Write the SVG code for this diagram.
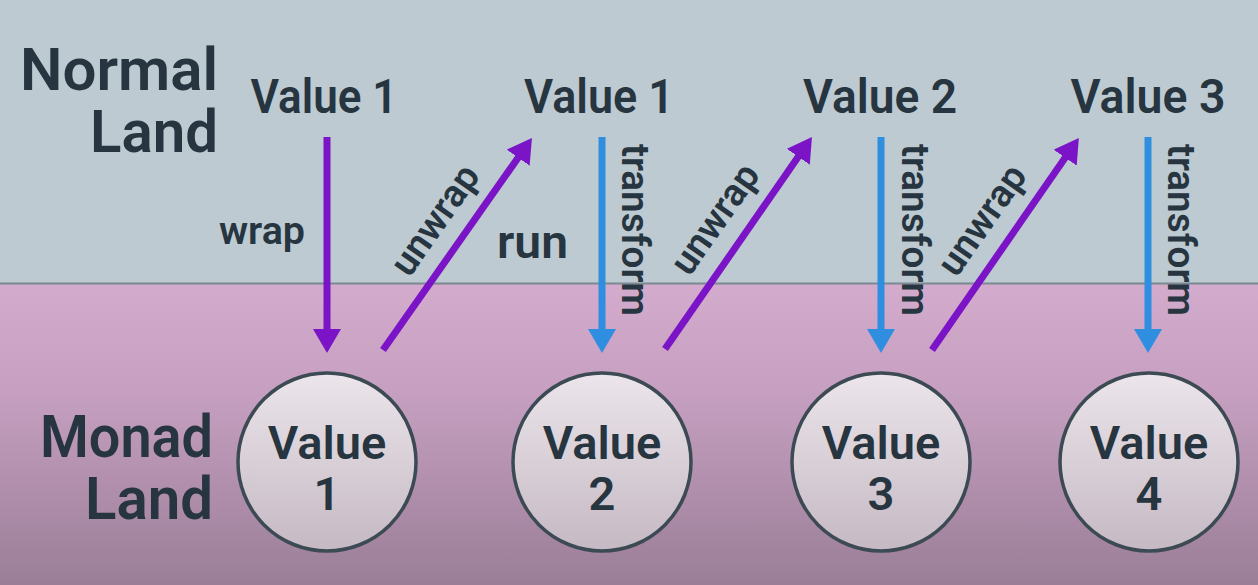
<svg xmlns="http://www.w3.org/2000/svg" width="1258" height="585" viewBox="0 0 1258 585">
<defs>
<linearGradient id="monadBg" x1="0" y1="283" x2="0" y2="585" gradientUnits="userSpaceOnUse">
<stop offset="0" stop-color="#d3abcc"/>
<stop offset="0.35" stop-color="#c7a0c1"/>
<stop offset="1" stop-color="#9a7e97"/>
</linearGradient>
<linearGradient id="bubble" x1="0" y1="0" x2="0" y2="1">
<stop offset="0" stop-color="#ece5eb"/>
<stop offset="1" stop-color="#c5b9c3"/>
</linearGradient>
<marker id="headP" viewBox="0 0 24 28" markerWidth="24" markerHeight="28" markerUnits="userSpaceOnUse" refX="6" refY="14" orient="auto">
<path d="M0,0 L24,14 L0,28 Z" fill="#7a14c6"/>
</marker>
<marker id="headB" viewBox="0 0 24 28" markerWidth="24" markerHeight="28" markerUnits="userSpaceOnUse" refX="6" refY="14" orient="auto">
<path d="M0,0 L24,14 L0,28 Z" fill="#2f8ee0"/>
</marker>
</defs>
<style>
.t{font-family:Roboto,"Liberation Sans",sans-serif;font-weight:600;fill:#263540}
.land{font-size:59px;text-anchor:end}
.val{font-size:48px;text-anchor:middle}
.cv{font-size:47px;text-anchor:middle}
.lab{font-size:38px}
.bub{fill:url(#bubble);stroke:#3c4a53;stroke-width:3.5}
.p{stroke:#7a14c6;stroke-width:7;fill:none;marker-end:url(#headP)}
.b{stroke:#2f8ee0;stroke-width:7;fill:none;marker-end:url(#headB)}
</style>
<rect x="0" y="0" width="1258" height="284" fill="#bdcad1"/>
<rect x="0" y="284" width="1258" height="301" fill="url(#monadBg)"/>
<line x1="0" y1="283.5" x2="1258" y2="283.5" stroke="#7b8a92" stroke-width="2"/>

<g id="normal-land">
<text class="t land" x="218" y="90" textLength="198" lengthAdjust="spacingAndGlyphs">Normal</text>
<text class="t land" x="218" y="152" textLength="128" lengthAdjust="spacingAndGlyphs">Land</text>
</g>
<g id="monad-land">
<text class="t land" x="213" y="457" textLength="173" lengthAdjust="spacingAndGlyphs">Monad</text>
<text class="t land" x="213" y="519" textLength="128" lengthAdjust="spacingAndGlyphs">Land</text>
</g>

<g id="n-value1a"><text class="t val" x="324" y="113" textLength="147" lengthAdjust="spacingAndGlyphs">Value 1</text></g>
<g id="n-value1b"><text class="t val" x="599" y="113" textLength="150" lengthAdjust="spacingAndGlyphs">Value 1</text></g>
<g id="n-value2"><text class="t val" x="880" y="113" textLength="154" lengthAdjust="spacingAndGlyphs">Value 2</text></g>
<g id="n-value3"><text class="t val" x="1148" y="113" textLength="155" lengthAdjust="spacingAndGlyphs">Value 3</text></g>

<g id="m-value1"><circle class="bub" cx="327" cy="462" r="89"/><text class="t cv" x="327" y="459">Value</text><text class="t cv" x="327" y="510">1</text></g>
<g id="m-value2"><circle class="bub" cx="602" cy="462" r="89"/><text class="t cv" x="602" y="459">Value</text><text class="t cv" x="602" y="510">2</text></g>
<g id="m-value3"><circle class="bub" cx="881" cy="462" r="89"/><text class="t cv" x="881" y="459">Value</text><text class="t cv" x="881" y="510">3</text></g>
<g id="m-value4"><circle class="bub" cx="1149" cy="462" r="89"/><text class="t cv" x="1149" y="459">Value</text><text class="t cv" x="1149" y="510">4</text></g>

<g id="connectors">
<line class="p" x1="327" y1="137" x2="327" y2="335"/>
<line class="p" x1="383" y1="350" x2="521.6" y2="152.7"/>
<line class="b" x1="602" y1="137" x2="602" y2="335"/>
<line class="p" x1="665" y1="349" x2="801.7" y2="151.8"/>
<line class="b" x1="881" y1="137" x2="881" y2="335"/>
<line class="p" x1="932" y1="350" x2="1068.6" y2="152.7"/>
<line class="b" x1="1148" y1="137" x2="1148" y2="335"/>
<text class="t lab" x="219" y="244" textLength="86" lengthAdjust="spacingAndGlyphs">wrap</text>
<text class="t" x="497" y="258" font-size="46" textLength="71" lengthAdjust="spacingAndGlyphs">run</text>
<text class="t lab" transform="translate(438,222) rotate(-55)" x="0" y="9" text-anchor="middle">unwrap</text>
<text class="t lab" transform="translate(718,221) rotate(-55)" x="0" y="9" text-anchor="middle">unwrap</text>
<text class="t lab" transform="translate(985,222) rotate(-55)" x="0" y="9" text-anchor="middle">unwrap</text>
<text class="t lab" transform="translate(622,144) rotate(90)" x="0" y="0" textLength="172" lengthAdjust="spacingAndGlyphs">transform</text>
<text class="t lab" transform="translate(902,144) rotate(90)" x="0" y="0" textLength="172" lengthAdjust="spacingAndGlyphs">transform</text>
<text class="t lab" transform="translate(1168,144) rotate(90)" x="0" y="0" textLength="172" lengthAdjust="spacingAndGlyphs">transform</text>
</g>
</svg>
